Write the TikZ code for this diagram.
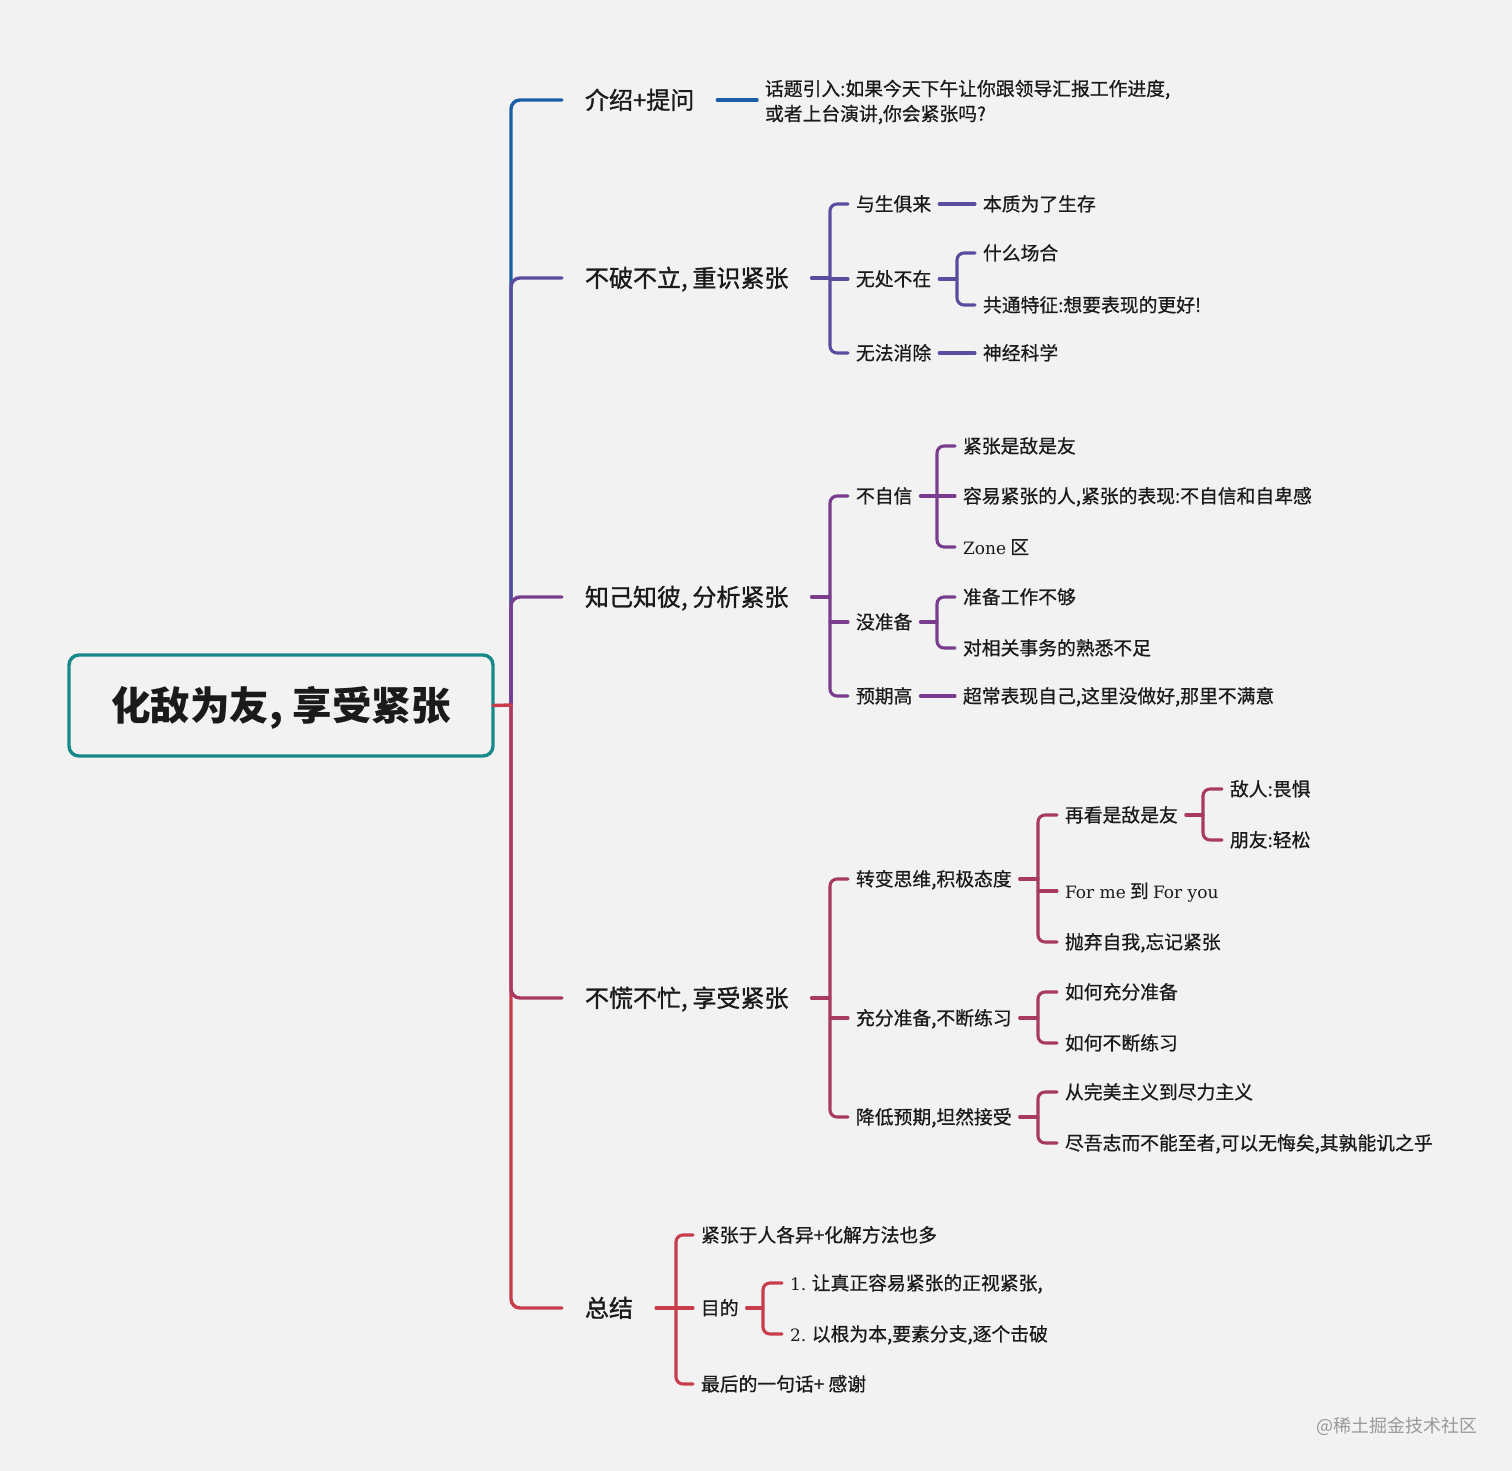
\documentclass[tikz,border=0pt]{standalone}
\usepackage{fontspec}
\newfontfamily\cjk{Noto Sans CJK SC}
\newfontfamily\cjkone[FakeBold=1.2]{Noto Sans CJK SC}
\newfontfamily\cjktwo[FakeBold=0.7]{Noto Sans CJK SC}
\newfontfamily\lat{DejaVu Serif}
\definecolor{bgc}{HTML}{F2F2F2}
\definecolor{textc}{HTML}{1A1A1A}
\definecolor{teal}{HTML}{17898A}
\definecolor{cA}{HTML}{1A5FA5}
\definecolor{cB}{HTML}{5A4DA0}
\definecolor{cC}{HTML}{7A3D8E}
\definecolor{cD}{HTML}{A83A62}
\definecolor{cE}{HTML}{C93C4C}
\tikzset{
  mainline/.style={line width=3.4pt, line cap=round, rounded corners=9pt},
  subline/.style={line width=3.1pt, line cap=round, rounded corners=7pt},
  basetxt/.style={anchor=west, inner ysep=0pt, outer sep=0pt, text=textc},
  lvone/.style={basetxt, inner xsep=23pt, font=\cjkone\fontsize{24}{30}\selectfont, text height=18pt, text depth=0pt},
  lvtwo/.style={basetxt, inner xsep=8pt, font=\cjktwo\fontsize{18.8}{25}\selectfont, text height=14pt, text depth=0pt},
  lvtwoml/.style={basetxt, inner xsep=8pt, font=\cjktwo\fontsize{18.8}{25}\selectfont, align=left},
}
\begin{document}
\begin{tikzpicture}[x=1pt,y=-1pt]
\fill[bgc] (0,0) rectangle (1512,1471);
\useasboundingbox (0,0) rectangle (1512,1471);

% root
\node[draw=teal, line width=3.4pt, rounded corners=10pt, minimum width=424pt, minimum height=101pt,
      inner sep=0pt, outer sep=0pt, text=textc, text height=30pt, text depth=0pt,
      font=\cjk\bfseries\fontsize{39.5}{45}\selectfont]
      (root) at (281,705.5) {化敌为友,\kern0.25em享受紧张};
\coordinate (rt) at (511,705);

% level 1
\node[lvone] (b1) at (562,100) {介绍+提问};
\node[lvone] (b2) at (562,278) {不破不立,\kern0.2em重识紧张};
\node[lvone] (b3) at (562,597) {知己知彼,\kern0.2em分析紧张};
\node[lvone] (b4) at (562,998) {不慌不忙,\kern0.2em享受紧张};
\node[lvone] (b5) at (562,1308) {总结};

% root connectors
\draw[mainline,cA] (rt) |- (b1.west);
\draw[mainline,cB] (rt) |- (b2.west);
\draw[mainline,cC] (rt) |- (b3.west);
\draw[mainline,cE] (rt) |- (b5.west);
\draw[mainline,cD] (rt) |- (b4.west);
\draw[mainline,cE] (root.east) -- (rt);

% branch 1
\node[lvtwoml] (n11) at (757,102) {话题引入:如果今天下午让你跟领导汇报工作进度,\\或者上台演讲,你会紧张吗?};
\draw[mainline,cA] (b1.east) -- (b1.east -| n11.west);

% branch 2
\coordinate (t2) at (830,278);
\node[lvtwo] (n21) at (848,204) {与生俱来};
\node[lvtwo] (n22) at (848,279) {无处不在};
\node[lvtwo] (n23) at (848,353) {无法消除};
\node[lvtwo] (n211) at (975,204) {本质为了生存};
\node[lvtwo] (n221) at (975,253) {什么场合};
\node[lvtwo] (n222) at (975,305) {共通特征:想要表现的更好!};
\node[lvtwo] (n231) at (975,353) {神经科学};
\coordinate (t22) at (957,279);
\draw[subline,cB] (b2.east) -- (t2);
\draw[subline,cB] (n21.west) -| (t2) |- (n23.west);
\draw[subline,cB] (t2 |- n22.west) -- (n22.west);
\draw[subline,cB] (n21.east) -- (n211.west);
\draw[subline,cB] (n22.east) -- (t22);
\draw[subline,cB] (n221.west) -| (t22) |- (n222.west);
\draw[subline,cB] (n23.east) -- (n231.west);

% branch 3
\coordinate (t3) at (830,597);
\node[lvtwo] (n31) at (848,496) {不自信};
\node[lvtwo] (n32) at (848,622) {没准备};
\node[lvtwo] (n33) at (848,696) {预期高};
\coordinate (t31) at (937,496);
\coordinate (t32) at (937,622);
\node[lvtwo] (n311) at (955,446) {紧张是敌是友};
\node[lvtwo] (n312) at (955,496) {容易紧张的人,紧张的表现:不自信和自卑感};
\node[lvtwo] (n313) at (955,547) {{\lat\fontsize{17}{20}\selectfont Zone} 区};
\node[lvtwo] (n321) at (955,597) {准备工作不够};
\node[lvtwo] (n322) at (955,648) {对相关事务的熟悉不足};
\node[lvtwo] (n331) at (955,696) {超常表现自己,这里没做好,那里不满意};
\draw[subline,cC] (b3.east) -- (t3);
\draw[subline,cC] (n31.west) -| (t3) |- (n33.west);
\draw[subline,cC] (t3 |- n32.west) -- (n32.west);
\draw[subline,cC] (n31.east) -- (t31);
\draw[subline,cC] (n311.west) -| (t31) |- (n313.west);
\draw[subline,cC] (t31) -- (n312.west);
\draw[subline,cC] (n32.east) -- (t32);
\draw[subline,cC] (n321.west) -| (t32) |- (n322.west);
\draw[subline,cC] (n33.east) -- (n331.west);

% branch 4
\coordinate (t4) at (830,998);
\node[lvtwo] (n41) at (848,879) {转变思维,积极态度};
\node[lvtwo] (n42) at (848,1018) {充分准备,不断练习};
\node[lvtwo] (n43) at (848,1117) {降低预期,坦然接受};
\coordinate (t41) at (1038,879);
\coordinate (t42) at (1038,1018);
\coordinate (t43) at (1038,1117);
\node[lvtwo] (n411) at (1057,815) {再看是敌是友};
\node[lvtwo] (n412) at (1057,891) {{\lat\fontsize{17}{20}\selectfont For me} 到 {\lat\fontsize{17}{20}\selectfont For you}};
\node[lvtwo] (n413) at (1057,942) {抛弃自我,忘记紧张};
\coordinate (t411) at (1203,815);
\node[lvtwo] (n4111) at (1222,789) {敌人:畏惧};
\node[lvtwo] (n4112) at (1222,840) {朋友:轻松};
\node[lvtwo] (n421) at (1057,992) {如何充分准备};
\node[lvtwo] (n422) at (1057,1043) {如何不断练习};
\node[lvtwo] (n431) at (1057,1092) {从完美主义到尽力主义};
\node[lvtwo] (n432) at (1057,1143) {尽吾志而不能至者,可以无悔矣,其孰能讥之乎};
\draw[subline,cD] (b4.east) -- (t4);
\draw[subline,cD] (n41.west) -| (t4) |- (n43.west);
\draw[subline,cD] (t4 |- n42.west) -- (n42.west);
\draw[subline,cD] (n41.east) -- (t41);
\draw[subline,cD] (n411.west) -| (t41) |- (n413.west);
\draw[subline,cD] (t41 |- n412.west) -- (n412.west);
\draw[subline,cD] (n411.east) -- (t411);
\draw[subline,cD] (n4111.west) -| (t411) |- (n4112.west);
\draw[subline,cD] (n42.east) -- (t42);
\draw[subline,cD] (n421.west) -| (t42) |- (n422.west);
\draw[subline,cD] (n43.east) -- (t43);
\draw[subline,cD] (n431.west) -| (t43) |- (n432.west);

% branch 5
\coordinate (t5) at (676,1308);
\node[lvtwo] (n51) at (693,1235) {紧张于人各异+化解方法也多};
\node[lvtwo] (n52) at (693,1308) {目的};
\node[lvtwo] (n53) at (693,1384) {最后的一句话+ 感谢};
\coordinate (t52) at (763,1308);
\node[lvtwo] (n521) at (782,1283) {{\lat\fontsize{17}{20}\selectfont 1.} 让真正容易紧张的正视紧张,};
\node[lvtwo] (n522) at (782,1334) {{\lat\fontsize{17}{20}\selectfont 2.} 以根为本,要素分支,逐个击破};
\draw[subline,cE] (b5.east) -- (t5);
\draw[subline,cE] (n51.west) -| (t5) |- (n53.west);
\draw[subline,cE] (t5) -- (n52.west);
\draw[subline,cE] (n52.east) -- (t52);
\draw[subline,cE] (n521.west) -| (t52) |- (n522.west);

% watermark
\node[basetxt, inner xsep=0pt, text=black!40, text height=14pt, text depth=0pt, font=\cjk\fontsize{18}{20}\selectfont] (wm) at (1316,1425) {@稀土掘金技术社区};
\end{tikzpicture}
\end{document}
